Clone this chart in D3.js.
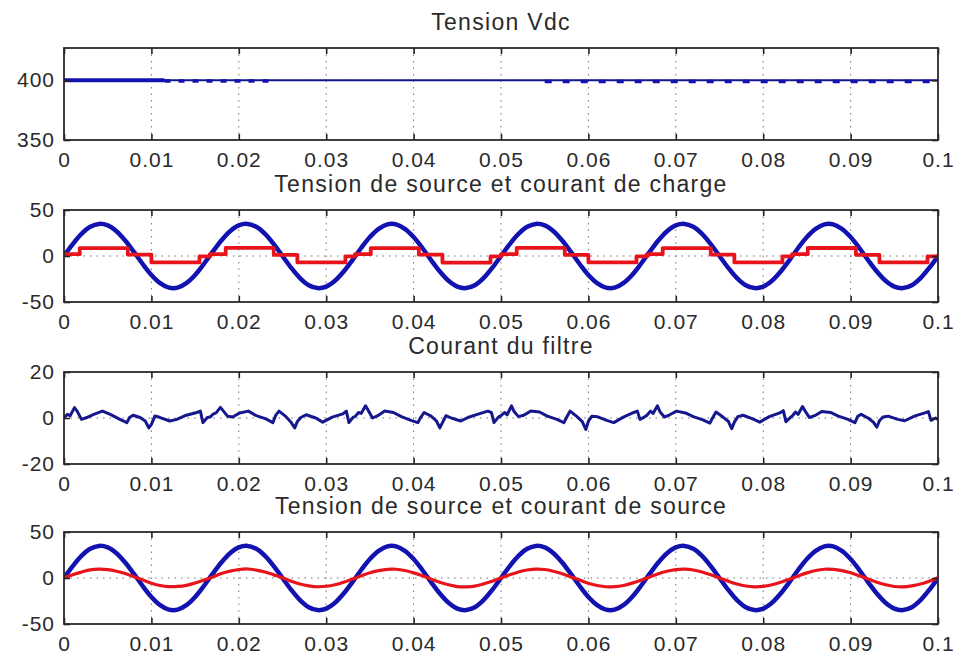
<!DOCTYPE html>
<html>
<head>
<meta charset="utf-8">
<script src="https://cdn.jsdelivr.net/npm/d3@7"></script>
<style>
  body { margin: 0; background: #fff; }
  svg text { font-family: "Liberation Sans", Arial, sans-serif; fill: #2a2a2a; }
</style>
</head>
<body>
<svg id="chart" width="956" height="654"></svg>
<script>
// ---- data ----
const titles = [
  'Tension Vdc',
  'Tension de source et courant de charge',
  'Courant du filtre',
  'Tension de source et courant de source'
];
const xTicks = [0, 0.01, 0.02, 0.03, 0.04, 0.05, 0.06, 0.07, 0.08, 0.09, 0.1];
const xTickLabels = ['0', '0.01', '0.02', '0.03', '0.04', '0.05', '0.06', '0.07', '0.08', '0.09', '0.1'];
const yTicksVdc = [350, 400];
const yTicksVolt = [-50, 0, 50];
const yTicksFilter = [-20, 0, 20];

// Vdc stays on 400 V with a small ripple
const vdcT = [0, 0.1];
const vdcV = [400, 400];
const vdcStartT = [0, 0.0115];
const vdcStartV = [400, 400];
const vdcRippleEarlyT = [0.0115, 0.0235];
const vdcRippleEarlyV = [399.4, 399.4];
const vdcRippleLateT = [0.055, 0.1];
const vdcRippleLateV = [399.0, 399.0];

// samples every 1 ms
const sampleTimes = d3.range(101).map((i) => i / 1000);
const sourceVoltage = [
  0, 12.9, 24.0, 31.7, 34.9, 33.3, 27.0, 16.9, 4.4, -8.7, -20.6, -29.5, -34.4, -34.4, -29.5, -20.6, -8.7, 4.4, 16.9, 27.0, 33.3, 34.9, 31.7, 24.0, 12.9,
  0, -12.9, -24.0, -31.7, -34.9, -33.3, -27.0, -16.9, -4.4, 8.7, 20.6, 29.5, 34.4, 34.4, 29.5, 20.6, 8.7, -4.4, -16.9, -27.0, -33.3, -34.9, -31.7, -24.0, -12.9,
  0, 12.9, 24.0, 31.7, 34.9, 33.3, 27.0, 16.9, 4.4, -8.7, -20.6, -29.5, -34.4, -34.4, -29.5, -20.6, -8.7, 4.4, 16.9, 27.0, 33.3, 34.9, 31.7, 24.0, 12.9,
  0, -12.9, -24.0, -31.7, -34.9, -33.3, -27.0, -16.9, -4.4, 8.7, 20.6, 29.5, 34.4, 34.4, 29.5, 20.6, 8.7, -4.4, -16.9, -27.0, -33.3, -34.9, -31.7, -24.0, -12.9,
  0
];
const sourceCurrent = [
  0.3, 3.6, 6.4, 8.8, 9.6, 9.1, 7.4, 4.8, 1.4, -2.2, -5.6, -8.2, -9.4, -9.2, -8.0, -5.4, -2.3, 1.0, 4.8, 7.5, 9.2, 9.8, 8.6, 6.6, 3.4,
  0.2, -3.5, -6.6, -8.5, -9.5, -9.0, -7.3, -4.6, -1.2, 2.4, 5.8, 8.0, 9.4, 9.5, 8.1, 5.6, 2.5, -1.2, -4.6, -7.4, -9.3, -9.6, -8.8, -6.4, -3.6,
  0.1, 3.5, 6.6, 8.7, 9.7, 9.2, 7.3, 4.7, 1.1, -2.3, -5.7, -8.1, -9.5, -9.4, -8.1, -5.6, -2.4, 1.2, 4.7, 7.4, 9.1, 9.6, 8.7, 6.5, 3.5,
  0.0, -3.4, -6.5, -8.7, -9.6, -9.1, -7.4, -4.7, -1.3, 2.3, 5.6, 8.1, 9.5, 9.3, 8.0, 5.7, 2.4, -1.2, -4.7, -7.3, -9.2, -9.7, -8.6, -6.6, -3.5,
  0.3
];

// stepped load current (levels held until the next time)
const loadT = [
  0, 0.0018, 0.0073, 0.0100, 0.0155,
  0.0167, 0.0185, 0.0240, 0.0267, 0.0322,
  0.0333, 0.0351, 0.0406, 0.0433, 0.0488,
  0.0500, 0.0518, 0.0573, 0.0600, 0.0655,
  0.0667, 0.0685, 0.0740, 0.0767, 0.0822,
  0.0833, 0.0851, 0.0906, 0.0933, 0.0988,
  0.1
];
const loadI = [
  2, 8.6, 1.5, -7, -0.5,
  2, 8.8, 1.2, -7, -0.5,
  2, 8.6, 1.5, -7.2, -0.5,
  2, 8.8, 1.2, -7, -0.5,
  2, 8.6, 1.5, -7, -0.5,
  2, 8.7, 1.3, -7, -0.5,
  2
];

// filter current, time in ms
const filterT = [
  0.0, 0.4, 0.7, 1.2, 1.5, 2.0, 2.6, 3.4, 4.4, 5.3, 6.4, 7.2, 7.5, 7.9, 8.7, 9.3, 9.7, 10.0, 10.4, 11.0, 12.1, 12.9, 14.0, 15.2, 15.6, 15.9, 16.4,
  16.7, 17.1, 17.4, 17.9, 18.2, 18.7, 19.3, 20.1, 21.1, 22.0, 23.1, 23.9, 24.2, 24.6, 25.4, 26.0, 26.4, 26.7, 27.1, 27.7, 28.8, 29.6, 30.7, 31.9, 32.3, 32.6, 33.1,
  33.3, 33.7, 34.0, 34.5, 34.8, 35.3, 35.9, 36.7, 37.7, 38.6, 39.7, 40.5, 40.8, 41.2, 42.0, 42.6, 43.0, 43.3, 43.7, 44.3, 45.4, 46.2, 47.3, 48.5, 48.9, 49.2, 49.7,
  50.0, 50.4, 50.7, 51.2, 51.5, 52.0, 52.6, 53.4, 54.4, 55.3, 56.4, 57.2, 57.5, 57.9, 58.7, 59.3, 59.7, 60.0, 60.4, 61.0, 62.1, 62.9, 64.0, 65.2, 65.6, 65.9, 66.4,
  66.7, 67.1, 67.4, 67.9, 68.2, 68.7, 69.3, 70.1, 71.1, 72.0, 73.1, 73.9, 74.2, 74.6, 75.4, 76.0, 76.4, 76.7, 77.1, 77.7, 78.8, 79.6, 80.7, 81.9, 82.3, 82.6, 83.1,
  83.3, 83.7, 84.0, 84.5, 84.8, 85.3, 85.9, 86.7, 87.7, 88.6, 89.7, 90.5, 90.8, 91.2, 92.0, 92.6, 93.0, 93.3, 93.7, 94.3, 95.4, 96.2, 97.3, 98.5, 98.9, 99.2, 99.7,
  100
];
const filterI = [
  0.2, 1.6, 1.0, 4.5, 3.0, -0.6, 0.2, 1.6, 3.0, 1.6, -0.6, -2.0, 0.2, 1.2, 0.2, -1.3, -4.3, -2.8, 0.9, 0.2, -1.3, -0.6, 1.2, 2.4, 3.0, -2.0, 0.2,
  0.4, 1.8, 2.2, 4.6, 3.2, 0.8, 0.4, 2.2, 3.0, 1.0, -0.4, -2.0, 1.0, 3.0, 0.6, -2.0, -4.3, -1.5, 0.2, 1.4, 0.0, -1.8, 0.4, 1.8, 3.0, -2.0, 0.4,
  0.6, 2.4, 2.0, 5.3, 3.4, 0.0, 1.0, 3.0, 2.4, 0.6, -1.0, -2.0, 0.2, 2.4, 0.8, -1.2, -4.3, -2.0, 1.0, 0.0, -1.3, 0.2, 1.6, 3.0, 2.4, -2.0, 0.4,
  1.0, 2.4, 1.4, 5.3, 2.8, 0.6, 1.2, 3.0, 2.6, 0.8, -0.6, -2.0, 0.2, 3.0, 0.6, -1.6, -5.0, -1.4, 0.8, 0.6, -1.0, -2.0, 0.4, 2.4, 3.0, -0.6, 0.4,
  1.2, 3.0, 2.0, 5.3, 2.6, 0.4, 1.4, 3.0, 2.2, 0.6, -0.8, -2.2, 0.0, 2.6, 0.4, -1.4, -4.6, -1.8, 0.6, 1.2, -0.4, -1.8, 0.6, 2.2, 3.2, -1.6, 0.2,
  0.8, 2.6, 1.6, 5.0, 3.0, 0.2, 1.0, 2.8, 2.4, 0.8, -0.6, -2.0, 0.6, 1.6, 0.0, -1.8, -4.0, -1.2, 0.4, 0.8, -0.6, -1.2, 0.8, 2.2, 2.8, -1.0, 0.0,
  -0.6
];

// ---- layout ----
const BLUE = '#1212b0';
const NAVY = '#16168e';
const RED = '#e8141c';
const plotLeft = 64;
const plotWidth = 874;
const plotHeight = 92;
const plotTops = [48, 210, 372, 532];

const zip = (t, v) => t.map((x, i) => ({ t: x, v: v[i] }));

const panels = [
  {
    title: titles[0], domain: [350, 427], ticks: yTicksVdc,
    series: [
      { data: zip(vdcT, vdcV), color: NAVY, width: 2 },
      { data: zip(vdcStartT, vdcStartV), color: BLUE, width: 4 },
      { data: zip(vdcRippleEarlyT, vdcRippleEarlyV), color: BLUE, width: 3.5, dash: '6,8' },
      { data: zip(vdcRippleLateT, vdcRippleLateV), color: BLUE, width: 3.5, dash: '7,11' }
    ]
  },
  {
    title: titles[1], domain: [-50, 50], ticks: yTicksVolt,
    series: [
      { data: zip(sampleTimes, sourceVoltage), color: BLUE, width: 4.5, curve: d3.curveCatmullRom },
      { data: zip(loadT, loadI), color: RED, width: 3.8, curve: d3.curveStepAfter }
    ]
  },
  {
    title: titles[2], domain: [-20, 20], ticks: yTicksFilter,
    series: [
      { data: zip(filterT.map((ms) => ms / 1000), filterI), color: NAVY, width: 3 }
    ]
  },
  {
    title: titles[3], domain: [-50, 50], ticks: yTicksVolt,
    series: [
      { data: zip(sampleTimes, sourceVoltage), color: BLUE, width: 4.5, curve: d3.curveCatmullRom },
      { data: zip(sampleTimes, sourceCurrent), color: RED, width: 3.2, curve: d3.curveCatmullRom }
    ]
  }
];

const svg = d3.select('#chart');
svg.append('rect').attr('width', 956).attr('height', 654).attr('fill', '#fff');

const x = d3.scaleLinear().domain([0, 0.1]).range([0, plotWidth]);

panels.forEach((panel, i) => {
  const top = plotTops[i];
  const y = d3.scaleLinear().domain(panel.domain).range([plotHeight, 0]);
  const g = svg.append('g').attr('transform', `translate(${plotLeft},${top})`);

  const clipId = `clip-${i}`;
  g.append('clipPath').attr('id', clipId)
    .append('rect').attr('width', plotWidth).attr('height', plotHeight);

  // dotted grid
  const grid = g.append('g').attr('stroke', '#444').attr('stroke-width', 1)
    .attr('stroke-dasharray', '1.5,5').attr('opacity', 0.75);
  grid.selectAll('line.vx').data(xTicks.slice(1, -1)).join('line')
    .attr('class', 'vx')
    .attr('x1', (d) => x(d)).attr('x2', (d) => x(d))
    .attr('y1', 0).attr('y2', plotHeight);
  grid.selectAll('line.hy').data(panel.ticks.filter((d) => y(d) > 1 && y(d) < plotHeight - 1)).join('line')
    .attr('class', 'hy')
    .attr('x1', 0).attr('x2', plotWidth)
    .attr('y1', (d) => y(d)).attr('y2', (d) => y(d));

  // series
  const lines = g.append('g').attr('clip-path', `url(#${clipId})`);
  panel.series.forEach((s) => {
    const line = d3.line().x((d) => x(d.t)).y((d) => y(d.v)).curve(s.curve || d3.curveLinear);
    lines.append('path')
      .attr('d', line(s.data))
      .attr('fill', 'none')
      .attr('stroke', s.color)
      .attr('stroke-width', s.width)
      .attr('stroke-linejoin', 'round')
      .attr('stroke-dasharray', s.dash || null);
  });

  // axes with inward ticks
  const fmt = (d) => xTickLabels[xTicks.indexOf(d)];
  const bottomAxis = g.append('g').attr('transform', `translate(0,${plotHeight})`)
    .call(d3.axisBottom(x).tickValues(xTicks).tickFormat(fmt).tickSize(-6).tickPadding(12));
  g.append('g').call(d3.axisTop(x).tickValues(xTicks).tickFormat('').tickSize(-6));
  const leftAxis = g.append('g')
    .call(d3.axisLeft(y).tickValues(panel.ticks).tickFormat((d) => String(d)).tickSize(-6).tickPadding(9));
  g.append('g').attr('transform', `translate(${plotWidth},0)`)
    .call(d3.axisRight(y).tickValues(panel.ticks).tickFormat('').tickSize(-6));

  g.selectAll('.domain').remove();
  g.selectAll('.tick line').attr('stroke', '#222').attr('stroke-width', 1.6);
  [bottomAxis, leftAxis].forEach((axis) => axis.selectAll('text')
    .attr('font-size', 21).attr('letter-spacing', '1px').attr('fill', '#2a2a2a')
    .style('font-family', '"Liberation Sans", Arial, sans-serif'));

  g.append('rect')
    .attr('width', plotWidth).attr('height', plotHeight)
    .attr('fill', 'none').attr('stroke', '#2a2a2a').attr('stroke-width', 1.8);

  svg.append('text')
    .attr('x', plotLeft + plotWidth / 2)
    .attr('y', top - 18)
    .attr('text-anchor', 'middle')
    .attr('font-size', 23)
    .attr('letter-spacing', '1.3px')
    .text(panel.title);
});
</script>
</body>
</html>
